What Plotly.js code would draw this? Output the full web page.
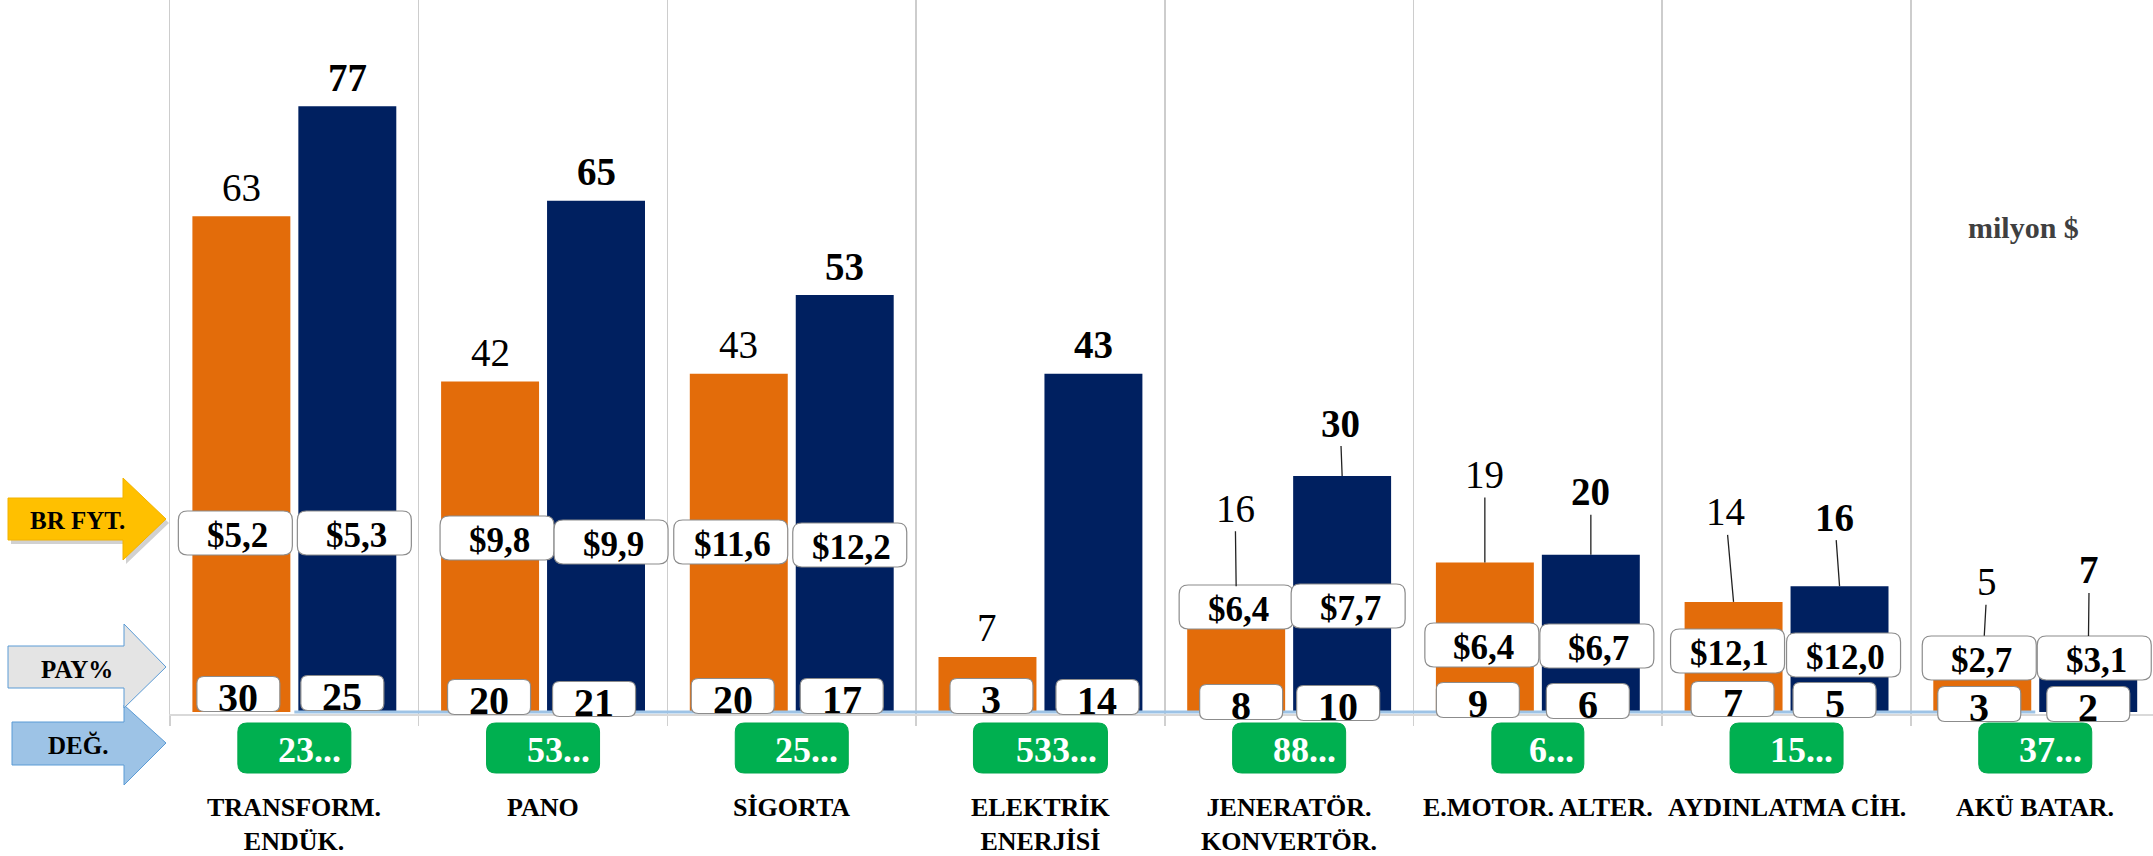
<!DOCTYPE html>
<html><head><meta charset="utf-8">
<script src="https://cdn.plot.ly/plotly-3.0.1.min.js"></script>
<style>html,body{margin:0;padding:0;background:#fff}#chart{width:2153px;height:856px}</style>
</head><body><div id="chart"></div>
<script>
// ---------------- DATA ----------------
const categories = ["TRANSFORM.<br>ENDÜK.", "PANO", "SİGORTA", "ELEKTRİK<br>ENERJİSİ", "JENERATÖR.<br>KONVERTÖR.", "E.MOTOR. ALTER.", "AYDINLATMA CİH.", "AKÜ BATAR."];
const valuesPrev = [63, 42, 43, 7, 16, 19, 14, 5];
const valuesCurr = [77, 65, 53, 43, 30, 20, 16, 7];
const pricePrev = ["$5,2", "$9,8", "$11,6", null, "$6,4", "$6,4", "$12,1", "$2,7"];
const priceCurr = ["$5,3", "$9,9", "$12,2", null, "$7,7", "$6,7", "$12,0", "$3,1"];
const sharePrev = [30, 20, 20, 3, 8, 9, 7, 3];
const shareCurr = [25, 21, 17, 14, 10, 6, 5, 2];
const changeLabels = ["23...", "53...", "25...", "533...", "88...", "6...", "15...", "37..."];
const zeroLine = [0, 0, 0, 0, 0, 0, 0, 0];
const rowLabels = ["BR FYT.", "PAY%", "DEĞ."];
const unitLabel = "milyon $";

// ---------------- LAYOUT HELPERS (positions / styles only) ----------------
const PLOT_L = 170, PLOT_BOTTOM = 714, CAT_W = 248.7;
const OFF = 53 / CAT_W;                 // grouped bar offset in category units
const SERIF = '"Liberation Serif", "Times New Roman", serif';
const ORANGE = '#E36C0A', NAVY = '#002060';

// price box centres (screen px) and x-nudges
const priceYPrev = [533, 538, 542, null, 607, 645, 651, 658];
const priceYCurr = [533, 542, 545, null, 606, 646, 655, 658];
const priceDxPrev = [-6, 7, -8, 0, 0, -3, -6, -3];
const priceDxCurr = [7, 15, 5, 0, 6, 6, 4, 6];
// share box centres
const shareYPrev = [694, 697, 696, 696, 702, 700, 699, 704];
const shareYCurr = [693, 699, 696, 697, 703, 701, 700, 704];
const shareDxPrev = [-3, -1, -6, 4, 5, -7, -1, -3];
const shareDxCurr = [-5, -2, -3, 4, -4, -3, -5, 0];
// value labels with leader lines: [ax, ay, standoff]
const leaderPrev = {4: [-1, -78, 0], 5: [0, -88, 0], 6: [-8, -90, 0], 7: [5, -91, 37]};
const leaderCurr = {4: [-2, -53, 0], 5: [0, -63, 0], 6: [-5, -69, 0], 7: [1, -87, 21]};

function rrPath(cx, cu, w, h, r) {
  const x0 = cx - w / 2, x1 = cx + w / 2, t = cu + h / 2, b = cu - h / 2;
  return `M${x0 + r},${t} L${x1 - r},${t} Q${x1},${t} ${x1},${t - r} L${x1},${b + r} Q${x1},${b} ${x1 - r},${b} ` +
         `L${x0 + r},${b} Q${x0},${b} ${x0},${b + r} L${x0},${t - r} Q${x0},${t} ${x0 + r},${t} Z`;
}
function boxShape(xa, dx, cyScreen, w, h, r, fill, line) {
  return {type: 'path', xref: 'x', yref: 'paper', xsizemode: 'pixel', ysizemode: 'pixel',
    xanchor: xa, yanchor: 0, path: rrPath(dx, PLOT_BOTTOM - cyScreen, w, h, r),
    fillcolor: fill, line: line, layer: 'above'};
}
function polyShape(pts, fill, line) {
  const p = pts.map((q, k) => (k ? 'L' : 'M') + (q[0] - PLOT_L) + ',' + (PLOT_BOTTOM - q[1])).join(' ') + ' Z';
  return {type: 'path', xref: 'paper', yref: 'paper', xsizemode: 'pixel', ysizemode: 'pixel',
    xanchor: 0, yanchor: 0, path: p, fillcolor: fill, line: line, layer: 'above'};
}
function arrowPts(x0, x1, xt, bt, bb, ht, hb, ty) {
  return [[x0, bt], [x1, bt], [x1, ht], [xt, ty], [x1, hb], [x1, bb], [x0, bb]];
}
// text placed at a screen position relative to a data x and the plot bottom
function boxText(x, xref, dx, cyScreen, txt, size, color, xanchor) {
  return {x: x, xref: xref, y: 0, yref: 'paper', xanchor: xanchor || 'center', yanchor: 'middle',
    xshift: dx, yshift: PLOT_BOTTOM - cyScreen, text: txt, showarrow: false, borderpad: 0,
    font: {family: SERIF, size: size, color: color}};
}

const shapes = [];
const annotations = [];
const boxLine = {color: '#8C8C8C', width: 1.2};

categories.forEach((c, i) => {
  const xp = i - OFF, xc = i + OFF;
  // price boxes
  if (pricePrev[i]) {
    shapes.push(boxShape(xp, priceDxPrev[i], priceYPrev[i], 114, 44, 9, '#FFFFFF', boxLine));
    annotations.push(boxText(xp, 'x', priceDxPrev[i] + 2, priceYPrev[i] + 2, '<b>' + pricePrev[i] + '</b>', 35, '#000'));
  }
  if (priceCurr[i]) {
    shapes.push(boxShape(xc, priceDxCurr[i], priceYCurr[i], 114, 44, 9, '#FFFFFF', boxLine));
    annotations.push(boxText(xc, 'x', priceDxCurr[i] + 2, priceYCurr[i] + 2, '<b>' + priceCurr[i] + '</b>', 35, '#000'));
  }
  // share boxes
  shapes.push(boxShape(xp, shareDxPrev[i], shareYPrev[i], 83, 35, 7, '#FFFFFF', boxLine));
  annotations.push(boxText(xp, 'x', shareDxPrev[i], shareYPrev[i] + 3, '<b>' + sharePrev[i] + '</b>', 40, '#000'));
  shapes.push(boxShape(xc, shareDxCurr[i], shareYCurr[i], 83, 35, 7, '#FFFFFF', boxLine));
  annotations.push(boxText(xc, 'x', shareDxCurr[i], shareYCurr[i] + 3, '<b>' + shareCurr[i] + '</b>', 40, '#000'));
  // change (green) boxes
  const gw = 8 + 21 * changeLabels[i].length;
  shapes.push(boxShape(i, 0, 748, gw, 50, 9, '#00B050', {color: '#00A84C', width: 1}));
  annotations.push(boxText(i, 'x', gw / 2 - 9, 750, '<b>' + changeLabels[i] + '</b>', 36, '#FFFFFF', 'right'));
  // category labels
  annotations.push({x: i, xref: 'x', y: 0, yref: 'paper', xanchor: 'center', yanchor: 'top', yshift: -78, borderpad: 0,
    text: '<b>' + c + '</b>', showarrow: false, font: {family: SERIF, size: 26, color: '#000'}});
  // value labels
  [[xp, valuesPrev[i], leaderPrev[i], String(valuesPrev[i])],
   [xc, valuesCurr[i], leaderCurr[i], '<b>' + valuesCurr[i] + '</b>']].forEach(([x, v, ld, txt]) => {
    const a = {x: x, xref: 'x', y: v, yref: 'y', xanchor: 'center', yanchor: 'middle', text: txt,
      font: {family: SERIF, size: 39, color: '#000'}};
    if (ld) {
      Object.assign(a, {showarrow: true, arrowhead: 0, arrowwidth: 1.3, arrowcolor: '#222', ax: ld[0], ay: ld[1], standoff: ld[2]});
    } else {
      Object.assign(a, {showarrow: false, yshift: 29});
    }
    annotations.push(a);
  });
});

// left row-arrows
shapes.push(polyShape(arrowPts(11, 126, 169, 502, 544, 482, 564, 523), 'rgba(0,0,0,0.18)', {width: 0}));
shapes.push(polyShape(arrowPts(8, 123, 166, 498, 540, 478, 560, 519), '#FFC000', {color: '#F2B200', width: 1}));
shapes.push(polyShape(arrowPts(12, 124, 166, 722, 765, 705, 785, 743), '#9DC3E6', {color: '#5B9BD5', width: 1}));
shapes.push(polyShape(arrowPts(8, 124, 166, 646, 688, 624, 708, 667), '#E4E4E4', {color: '#5B9BD5', width: 1}));
[[77, 520], [77, 669], [78, 745]].forEach((p, k) => {
  annotations.push(boxText(0, 'paper', p[0] - PLOT_L, p[1], '<b>' + rowLabels[k] + '</b>', 25, '#000'));
});
annotations.push(boxText(0, 'paper', 2023 - PLOT_L, 227, '<b>' + unitLabel + '</b>', 30, '#404040'));

const traces = [
  {type: 'bar', x: categories, y: valuesPrev, marker: {color: ORANGE}, hoverinfo: 'skip', showlegend: false},
  {type: 'bar', x: categories, y: valuesCurr, marker: {color: NAVY}, hoverinfo: 'skip', showlegend: false},
  {type: 'scatter', mode: 'lines', x: categories, y: zeroLine, line: {color: '#9DC3E6', width: 3}, hoverinfo: 'skip', showlegend: false}
];

const layout = {
  width: 2153, height: 856,
  margin: {l: PLOT_L, r: 0, t: 0, b: 856 - PLOT_BOTTOM, pad: 0},
  paper_bgcolor: '#FFFFFF', plot_bgcolor: '#FFFFFF',
  barmode: 'group', bargap: 0.148, bargroupgap: 0.0755,
  xaxis: {type: 'category', range: [-0.5, -0.5 + (2153 - PLOT_L) / CAT_W], tickson: 'boundaries',
    showgrid: true, gridcolor: '#CDCDCD', gridwidth: 1.5, ticks: 'outside', ticklen: 10, tickcolor: '#D0D0D0', tickwidth: 1.5,
    showticklabels: false, showline: true, linecolor: '#D9D9D9', linewidth: 2, zeroline: false, fixedrange: true},
  yaxis: {range: [-0.25, 90.5], showgrid: false, zeroline: false, showticklabels: false, ticks: '',
    showline: true, linecolor: '#CDCDCD', linewidth: 1.5, fixedrange: true},
  shapes: shapes,
  annotations: annotations,
  font: {family: SERIF}
};

Plotly.newPlot('chart', traces, layout, {displayModeBar: false, staticPlot: true});
</script>
</body></html>
